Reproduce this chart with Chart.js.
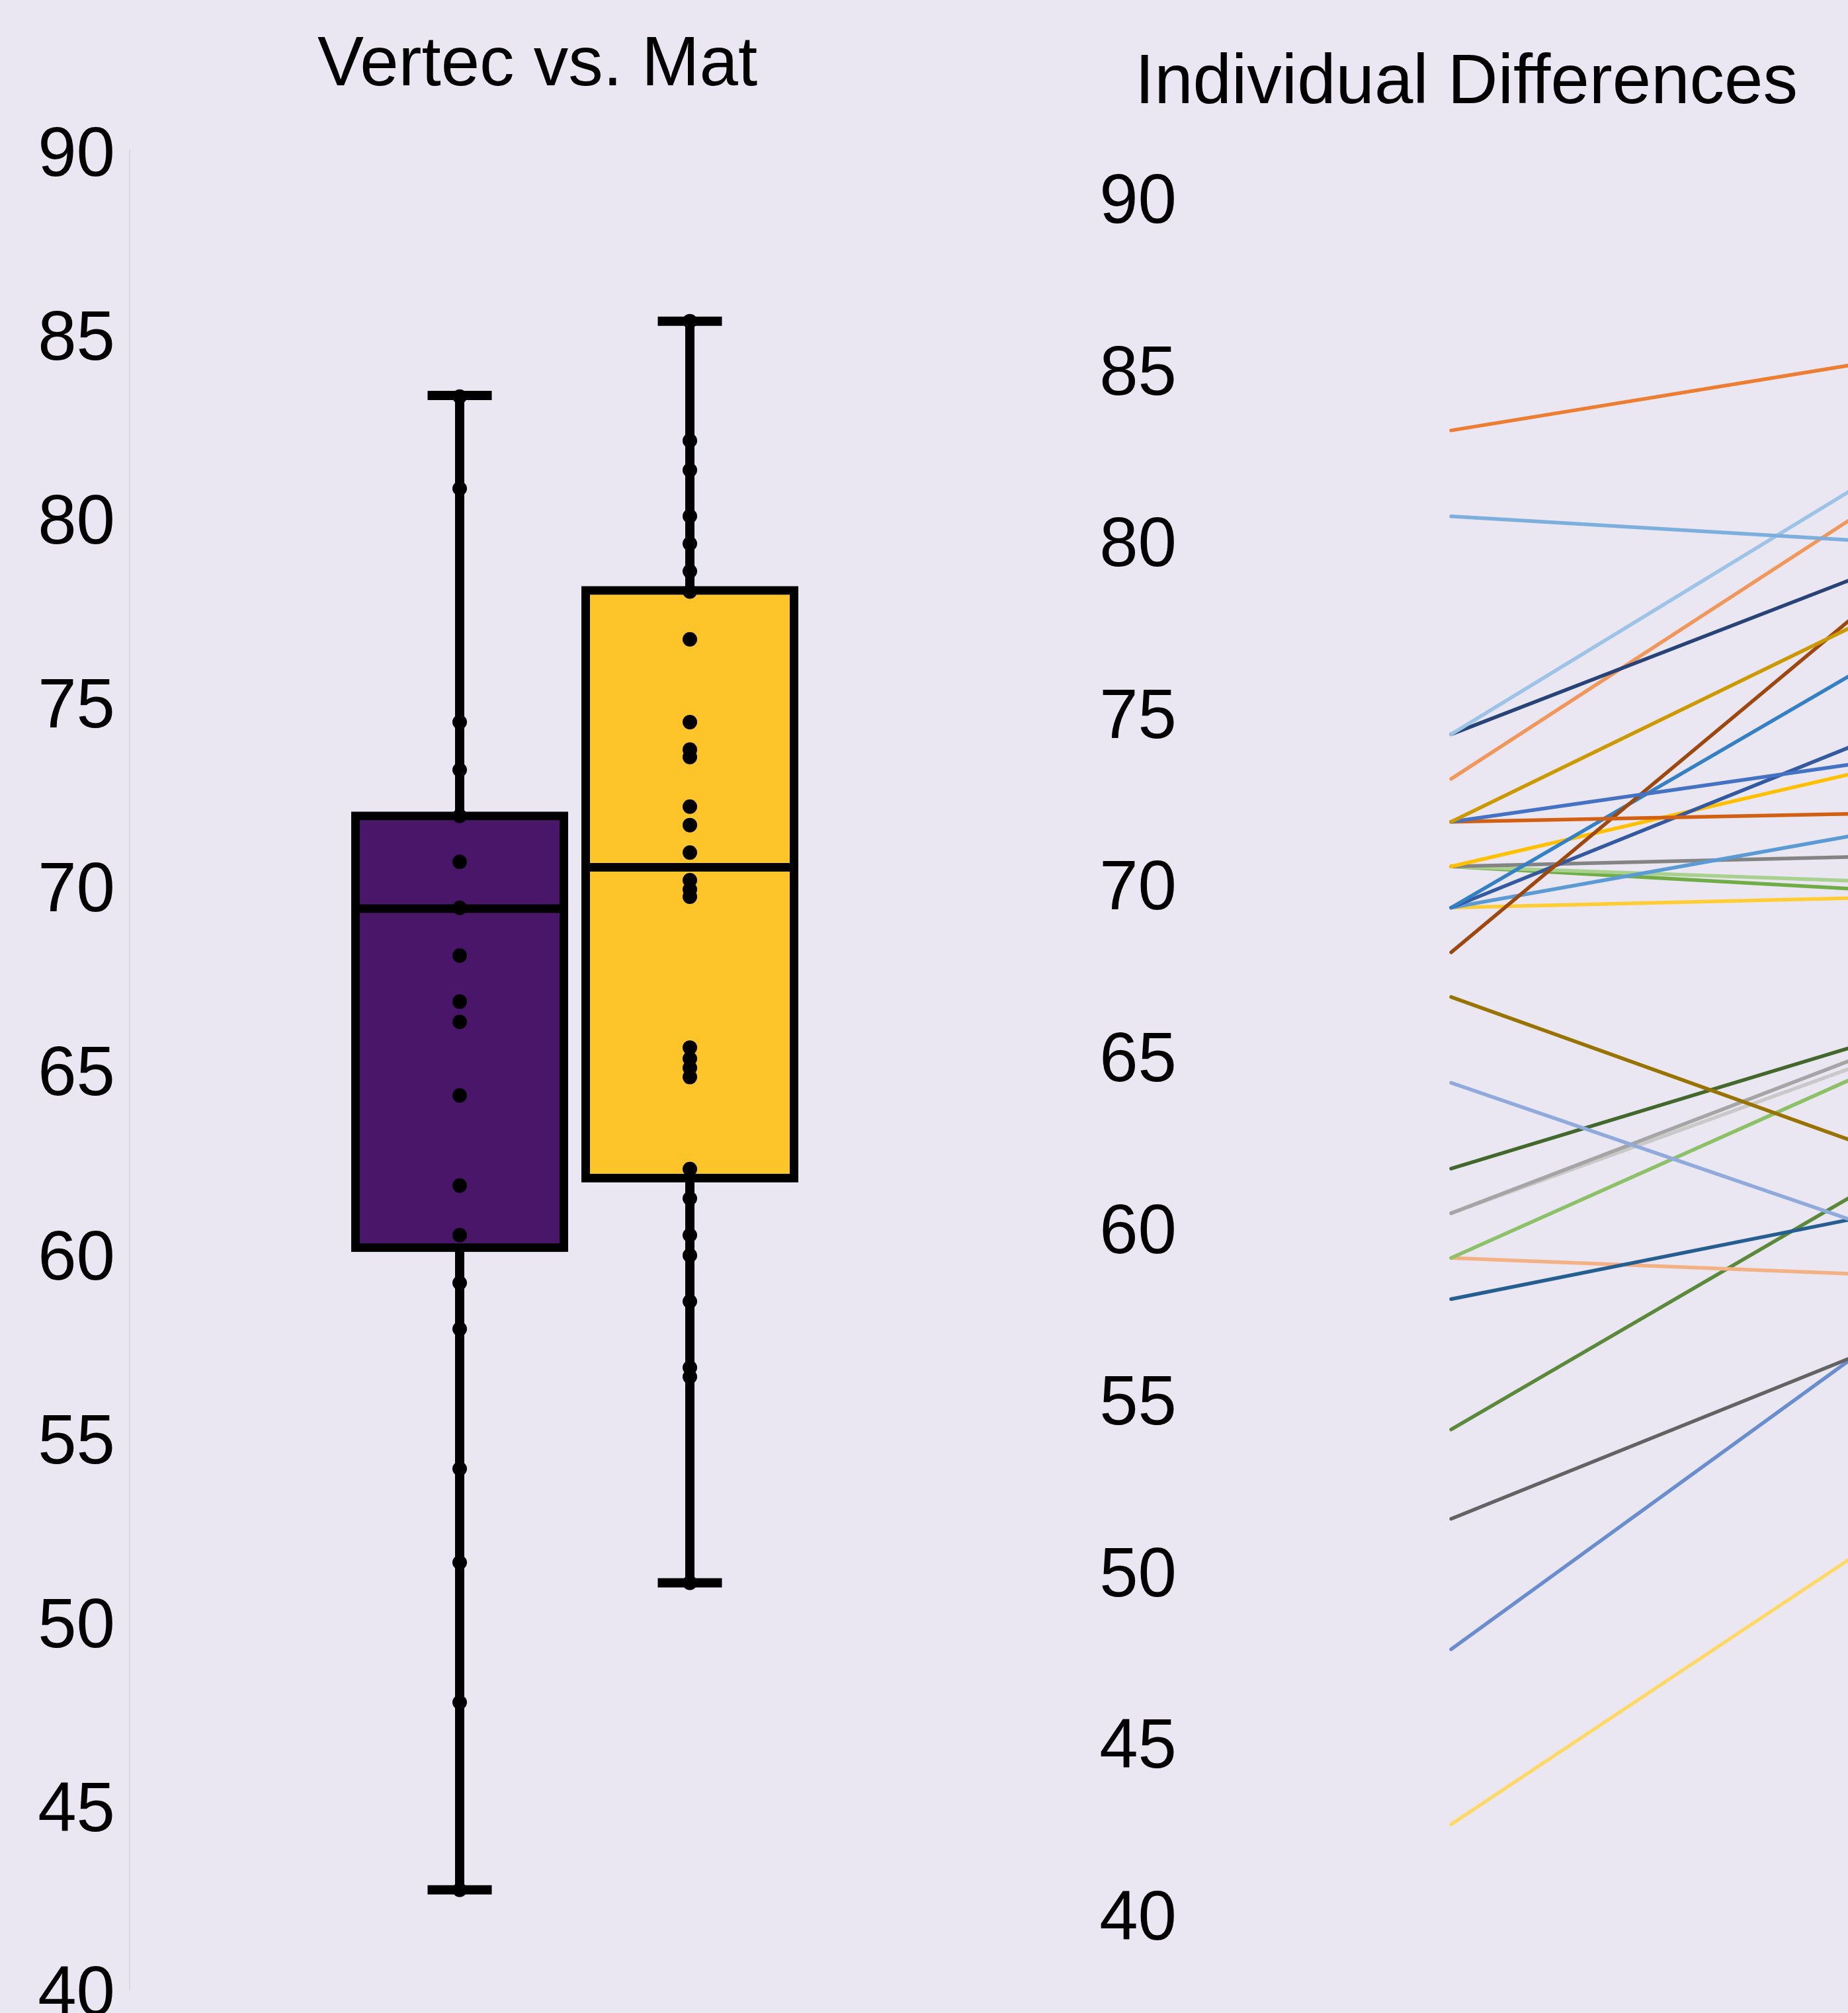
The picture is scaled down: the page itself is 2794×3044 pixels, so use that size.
<!DOCTYPE html>
<html>
<head>
<meta charset="utf-8">
<script src="https://cdn.jsdelivr.net/npm/chart.js@4.4.1/dist/chart.umd.min.js"></script>
<style>
html, body { margin: 0; padding: 0; background: #EAE7F2; width: 2794px; height: 3044px; overflow: hidden; }
#wrap { position: relative; width: 2794px; height: 3044px; overflow: hidden; }
canvas { position: absolute; top: 0; }
#left { left: 0; }
#right { left: 1560px; }
</style>
</head>
<body>
<div id="wrap">
  <canvas id="left" width="1625" height="3044"></canvas>
  <canvas id="right" width="1314" height="3044"></canvas>
</div>
<script>
// ---------- data ----------
const groups = ['Vertec', 'Mat'];
const boxColors = ['#49166A', '#FEC52B'];
const whiskerLow  = [42.7, 51.05];
const q1          = [60.16, 62.05];
const median      = [69.38, 70.5];
const q3          = [71.9, 78.03];
const whiskerHigh = [83.33, 85.35];

const vertecDots = [83.3, 80.8, 74.45, 73.15, 71.9, 70.65, 69.4, 68.1, 66.85, 66.3, 64.3, 61.85, 60.5, 59.2, 57.95, 54.15, 51.6, 47.8, 42.7];
const matDots = [85.35, 82.1, 81.3, 80.05, 79.3, 78.55, 78.0, 76.7, 74.45, 73.7, 73.5, 72.15, 71.65, 70.9, 70.15, 69.9, 69.7, 65.6, 65.3, 65.05, 64.8, 62.3, 61.5, 60.5, 59.95, 58.7, 56.9, 56.65, 51.05];

// individual lines: Vertec score -> Mat score
const vertecScores = [83.3, 80.8, 74.45, 74.45, 73.15, 71.9, 71.9, 71.9, 68.1, 69.4, 69.4, 70.6, 69.4, 70.6, 70.6, 70.6, 69.4, 66.8, 64.3, 61.8, 60.5, 60.5, 59.2, 58.0, 59.2, 54.2, 51.6, 47.8, 42.7];
const matScores    = [85.35, 80.05, 82.1, 79.3, 81.3, 78.0, 73.7, 72.15, 78.55, 76.7, 74.45, 73.5, 71.65, 70.9, 70.15, 69.9, 69.7, 62.3, 60.0, 65.6, 65.3, 65.05, 64.8, 60.5, 58.7, 61.5, 56.65, 56.9, 51.05];
const lineColors = ['#ED7D31', '#7CAFDD', '#9DC3E6', '#264478', '#F1975A', '#CC9A00', '#4472C4', '#D26012', '#9E480E', '#3380C6', '#335AA1', '#FFC000', '#5B9BD5', '#848484', '#A9D18E', '#70AD47', '#FFCD33', '#997300', '#8FAADC', '#43682B', '#A5A5A5', '#C9C9C9', '#8CC168', '#255E91', '#F4B183', '#5A8A39', '#636363', '#698ED0', '#FFD966'];

const yTicks = [40, 45, 50, 55, 60, 65, 70, 75, 80, 85, 90];
const titles = ['Vertec vs. Mat', 'Individual Differences'];

// ---------- styling ----------
const FONT = "'Liberation Sans', Arial, Helvetica, sans-serif";
const TXT = '#000000';

function yScale(width, padding, border, labelOffset) {
  return {
    min: yTicks[0], max: yTicks[yTicks.length - 1],
    afterBuildTicks: (s) => { s.ticks = yTicks.map(v => ({ value: v })); },
    afterFit: (s) => { s.width = width; s.paddingTop = 0; s.paddingBottom = 0; },
    grid: { display: false, drawTicks: false },
    border: border ? { display: true, color: '#D9D6E0', width: 2 } : { display: false },
    ticks: { color: TXT, padding: padding, labelOffset: labelOffset,
      font: { family: FONT, size: 105, lineHeight: 1.2 } }
  };
}

// ---------- left: box plot ----------
const leftDatasets = [];
leftDatasets.push({
  type: 'line', order: 1, showLine: false,
  data: [...vertecDots.map(v => ({ x: 0, y: v })), ...matDots.map(v => ({ x: 1, y: v }))],
  pointRadius: 11, pointHoverRadius: 11, pointStyle: 'circle',
  pointBackgroundColor: '#000', pointBorderWidth: 0
});
leftDatasets.push({
  type: 'line', order: 2, showLine: false,
  data: median.map((m, i) => ({ x: i, y: m })),
  pointStyle: 'line', pointRadius: 157.5, pointHoverRadius: 157.5,
  pointBorderColor: '#000', pointBorderWidth: 13
});
leftDatasets.push({
  type: 'line', order: 3, showLine: false,
  data: groups.flatMap((g, i) => [{ x: i, y: whiskerLow[i] }, { x: i, y: whiskerHigh[i] }]),
  pointStyle: 'line', pointRadius: 48.5, pointHoverRadius: 48.5,
  pointBorderColor: '#000', pointBorderWidth: 14
});
groups.forEach((g, i) => {
  [[whiskerLow[i], q1[i]], [q3[i], whiskerHigh[i]]].forEach(seg => {
    leftDatasets.push({
      type: 'line', order: 4,
      data: seg.map(v => ({ x: i, y: v })),
      borderColor: '#000', borderWidth: 14, borderCapStyle: 'butt',
      pointRadius: 0, fill: false
    });
  });
});
leftDatasets.push({
  type: 'bar', order: 5,
  data: groups.map((g, i) => ({ x: i, y: [q1[i], q3[i]] })),
  backgroundColor: boxColors, borderColor: '#000', borderWidth: 13,
  borderSkipped: false, inflateAmount: 6.5, barThickness: 315
});

new Chart(document.getElementById('left'), {
  type: 'bar',
  data: { datasets: leftDatasets },
  options: {
    responsive: false, animation: false, devicePixelRatio: 1,
    layout: { autoPadding: false, padding: { top: 0, left: 0, right: 0, bottom: 36 } },
    plugins: {
      legend: { display: false }, tooltip: { enabled: false },
      title: { display: true, text: titles[0], color: TXT,
        font: { family: FONT, size: 105, weight: 'normal', lineHeight: 1.2 },
        padding: { top: 37, bottom: 64 } }
    },
    scales: {
      x: { type: 'linear', min: -1.4339, max: 2.6724, offset: false, display: false },
      y: yScale(196, 22, true, 10)
    }
  }
});

// ---------- right: individual differences ----------
const rightDatasets = vertecScores.map((v, i) => ({
  data: [{ x: 0, y: v }, { x: 1, y: matScores[i] }],
  borderColor: lineColors[i], borderWidth: 5.5, borderCapStyle: 'round',
  pointRadius: 0, fill: false
}));

new Chart(document.getElementById('right'), {
  type: 'line',
  data: { datasets: rightDatasets },
  options: {
    responsive: false, animation: false, devicePixelRatio: 1,
    layout: { autoPadding: false, padding: { top: 0, left: 0, right: 0, bottom: 145 } },
    plugins: {
      legend: { display: false }, tooltip: { enabled: false },
      title: { display: true, text: titles[1], color: TXT,
        font: { family: FONT, size: 105, weight: 'normal', lineHeight: 1.2 },
        padding: { top: 64, bottom: 113 } }
    },
    scales: {
      x: { type: 'linear', min: -0.6052, max: 1.0446, offset: false, display: false },
      y: yScale(240, 21, false, 5)
    }
  }
});
</script>
</body>
</html>
